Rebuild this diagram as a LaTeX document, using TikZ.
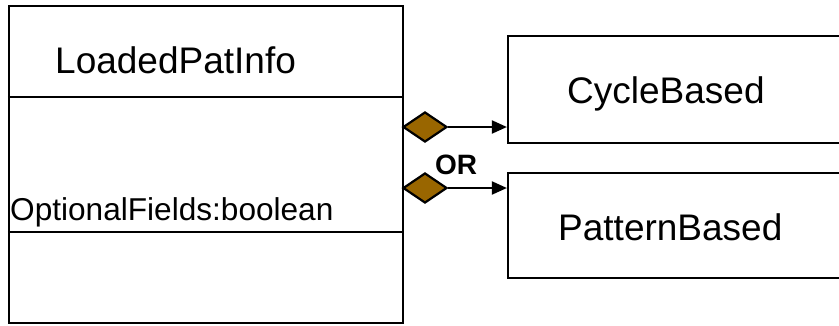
\documentclass[tikz,border=0pt]{standalone}
\usepackage{fontspec}
\setmainfont{Liberation Sans}
\usetikzlibrary{arrows.meta,positioning,shapes.geometric}
\definecolor{aggbrown}{RGB}{153,102,0}
\tikzset{
    %Define standard arrow tip
    >={Triangle[length=15pt,width=13pt]},
    %Define style for class boxes
    classbox/.style={
           rectangle,
           draw=black, line width=2.2pt,
           inner sep=0pt,
           minimum width=394pt,
           minimum height=317pt},
    subclass/.style={
           rectangle,
           draw=black, line width=2.2pt,
           inner sep=0pt,
           minimum width=342pt},
    bigtext/.style={
           inner sep=0pt,
           anchor=base west,
           font=\fontsize{37}{40}\selectfont},
    attrtext/.style={
           inner sep=0pt,
           anchor=base west,
           font=\fontsize{31.6}{34}\selectfont},
    % Define aggregation diamond
    agg/.style={
           diamond,
           draw=black, line width=2.2pt,
           fill=aggbrown,
           inner sep=0pt,
           minimum width=44pt,
           minimum height=30pt},
    % Define arrow style
    pil/.style={
           ->,
           line width=2pt}
}

\begin{document}
\begin{tikzpicture}[x=1pt,y=-1pt]
\useasboundingbox (0,0) rectangle (839,325);
\clip (0,0) rectangle (839,325);
\node[classbox](loaded) at (206,164.5){};
\draw[line width=2.2pt] ([yshift=-92pt]loaded.north west) -- ([yshift=-92pt]loaded.north east);
\draw[line width=2.2pt] ([yshift=-227pt]loaded.north west) -- ([yshift=-227pt]loaded.north east);
\node[bigtext](loadedname) at (55,73){LoadedPatInfo};
\node[attrtext](optfields) at (10,220){OptionalFields:boolean};
\node[subclass, minimum height=107pt](cycle) at (679,89.5){};
\node[bigtext](cyclename) at (567,103){CycleBased};
\node[subclass, minimum height=105pt](pattern) at (679,225.5){};
\node[bigtext](patternname) at (558,240){PatternBased};
\node[agg](aggcycle) at (425,127){};
\node[agg](aggpattern) at (425,188){};
\node[font=\bfseries\fontsize{28}{30}\selectfont, inner sep=0pt](or) at (456,164.5){OR};
\draw[pil] (aggcycle.east) -- (aggcycle.east -| cycle.west);
\draw[pil] (aggpattern.east) -- (aggpattern.east -| pattern.west);
\end{tikzpicture}
\end{document}
